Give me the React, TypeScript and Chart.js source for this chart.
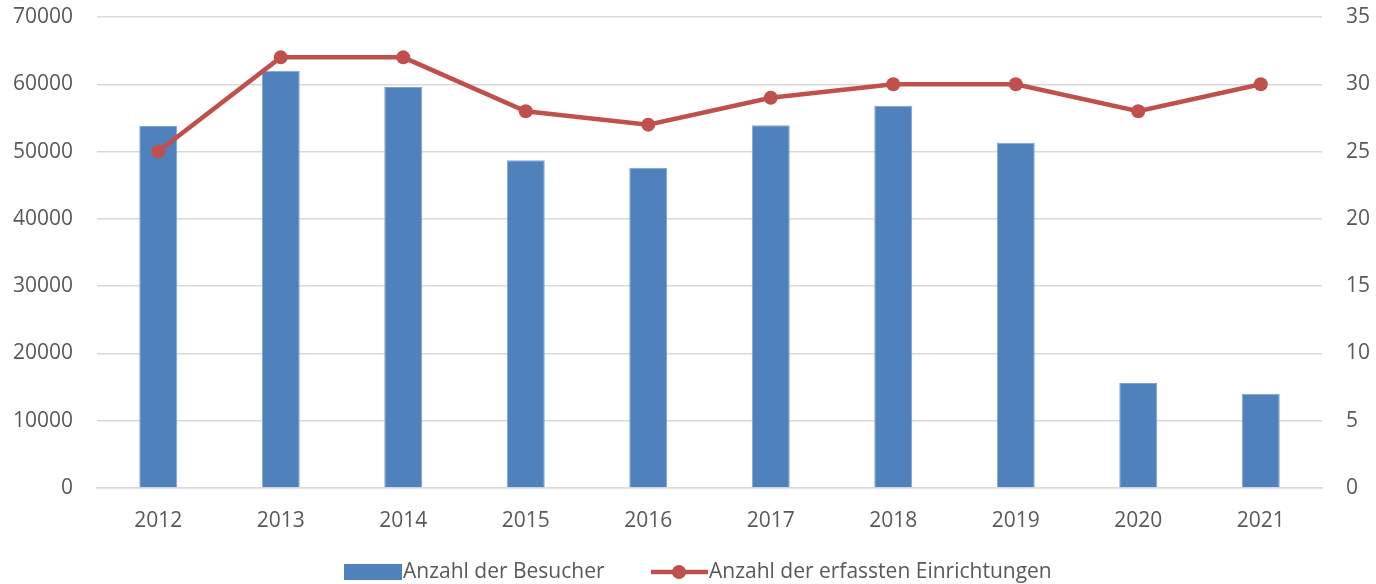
import React, { useEffect, useRef } from "react";
import { Chart, registerables } from "chart.js";

Chart.register(...registerables);

const years = ["2012", "2013", "2014", "2015", "2016", "2017", "2018", "2019", "2020", "2021"];
const besucher = [53800, 62000, 59600, 48700, 47600, 53900, 56800, 51300, 15600, 14000];
const einrichtungen = [25, 32, 32, 28, 27, 29, 30, 30, 28, 30];
const barLabel = "Anzahl der Besucher";
const lineLabel = "Anzahl der erfassten Einrichtungen";

const BLUE = "#4F81BD";
const RED = "#C0504D";
const TEXT = "#595959";
const FONT = "'Open Sans', 'Liberation Sans', sans-serif";
const FS = 21;

const legendPlugin = {
  id: "customLegend",
  afterDraw(chart: any) {
    const ctx = chart.ctx;
    ctx.save();
    ctx.font = `${FS}px ${FONT}`;
    ctx.textBaseline = "middle";
    const y = 572;
    const bx = 344;
    ctx.fillStyle = BLUE;
    ctx.fillRect(bx, y - 8, 58, 16);
    ctx.fillStyle = TEXT;
    ctx.textAlign = "left";
    ctx.fillText(barLabel, bx + 59, y);
    const lx = 651;
    ctx.strokeStyle = RED;
    ctx.lineWidth = 4.5;
    ctx.beginPath();
    ctx.moveTo(lx, y);
    ctx.lineTo(lx + 57, y);
    ctx.stroke();
    ctx.fillStyle = RED;
    ctx.beginPath();
    ctx.arc(lx + 28, y, 7, 0, Math.PI * 2);
    ctx.fill();
    ctx.fillStyle = TEXT;
    ctx.fillText(lineLabel, lx + 58, y);
    ctx.restore();
  },
};

export default function App() {
  const ref = useRef<HTMLCanvasElement | null>(null);
  useEffect(() => {
    document.body.style.margin = "0";
    const chart = new Chart(ref.current as HTMLCanvasElement, {
      type: "bar",
      data: {
        labels: years,
        datasets: [
          {
            type: "line",
            label: lineLabel,
            data: einrichtungen,
            yAxisID: "y1",
            borderColor: RED,
            backgroundColor: RED,
            borderWidth: 4.5,
            pointRadius: 7,
            pointBackgroundColor: RED,
            pointBorderColor: RED,
            pointBorderWidth: 0,
            tension: 0,
            order: 0,
          } as any,
          {
            type: "bar",
            label: barLabel,
            data: besucher,
            yAxisID: "y",
            backgroundColor: BLUE,
            borderColor: "#7FA3D1",
            borderWidth: 1,
            barPercentage: 0.31,
            categoryPercentage: 1,
            order: 1,
          },
        ],
      },
      plugins: [legendPlugin],
      options: {
        responsive: false,
        animation: false,
        layout: { padding: { left: 0, right: 0, top: 17, bottom: 0 } },
        plugins: { legend: { display: false }, tooltip: { enabled: false } },
        scales: {
          x: {
            grid: { display: false, drawTicks: false },
            border: { display: true, color: "#D9D9D9", width: 1.5 },
            ticks: { color: TEXT, font: { family: FONT, size: FS }, padding: 20 },
            afterFit: (s: any) => {
              s.height = 584 - 488;
              s.paddingLeft = 0;
              s.paddingRight = 0;
            },
          },
          y: {
            position: "left",
            min: 0,
            max: 70000,
            ticks: {
              stepSize: 10000,
              color: TEXT,
              font: { family: FONT, size: FS },
              padding: 24,
              callback: (v: any) => String(v),
            },
            grid: { color: "#D9D9D9", lineWidth: 1.5, drawTicks: false },
            border: { display: false },
            afterFit: (s: any) => {
              s.width = 97;
              s.paddingTop = 0;
              s.paddingBottom = 0;
            },
          },
          y1: {
            position: "right",
            min: 0,
            max: 35,
            ticks: { stepSize: 5, color: TEXT, font: { family: FONT, size: FS }, padding: 24 },
            grid: { display: false, drawTicks: false },
            border: { display: false },
            afterFit: (s: any) => {
              s.width = 1376 - 1322;
              s.paddingTop = 0;
              s.paddingBottom = 0;
            },
          },
        },
      },
    });
    return () => chart.destroy();
  }, []);
  return (
    <div style={{ position: "absolute", left: 0, top: 0, width: 1376, height: 584 }}>
      <canvas ref={ref} width={1376} height={584} style={{ width: 1376, height: 584 }} />
    </div>
  );
}
